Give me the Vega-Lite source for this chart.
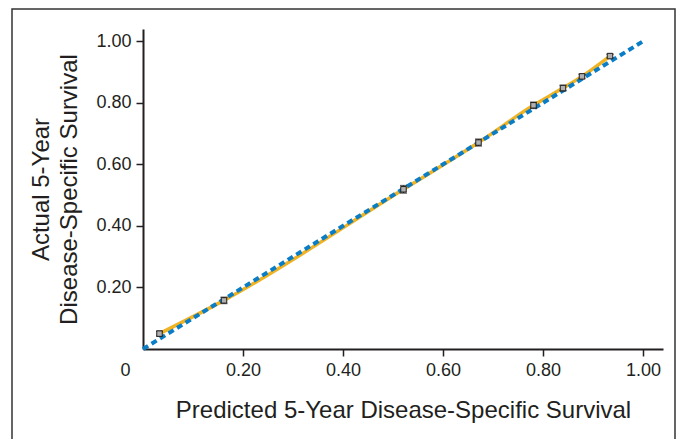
{
  "$schema": "https://vega.github.io/schema/vega-lite/v6.json",
  "autosize": "none",
  "width": 663,
  "height": 430,
  "padding": {"left": 12, "top": 9, "right": 5, "bottom": 0},
  "background": "white",
  "config": {
    "view": {"stroke": "#333333", "strokeWidth": 1.5, "strokeDash": [1093, 663, 430]},
    "font": "Liberation Sans",
    "axis": {
      "grid": false,
      "domainColor": "#231f20",
      "domainWidth": 2,
      "tickColor": "#231f20",
      "tickWidth": 1.5,
      "tickSize": 7,
      "labelFont": "Liberation Sans",
      "labelFontSize": 18,
      "labelColor": "#231f20",
      "titleFont": "Liberation Sans",
      "titleFontSize": 24,
      "titleFontWeight": "normal",
      "titleColor": "#231f20"
    }
  },
  "datasets": {
    "pts": [
      {"pred": 0.033, "actual": 0.050, "lo": 0.042, "hi": 0.058},
      {"pred": 0.162, "actual": 0.158, "lo": 0.148, "hi": 0.168},
      {"pred": 0.521, "actual": 0.519, "lo": 0.507, "hi": 0.531},
      {"pred": 0.671, "actual": 0.671, "lo": 0.660, "hi": 0.682},
      {"pred": 0.781, "actual": 0.792, "lo": 0.782, "hi": 0.802},
      {"pred": 0.840, "actual": 0.848, "lo": 0.839, "hi": 0.857},
      {"pred": 0.878, "actual": 0.886, "lo": 0.879, "hi": 0.893},
      {"pred": 0.934, "actual": 0.952, "lo": 0.946, "hi": 0.958}
    ],
    "diag": [
      {"pred": 0, "actual": 0},
      {"pred": 1, "actual": 1}
    ]
  },
  "encoding": {
    "x": {
      "field": "pred",
      "type": "quantitative",
      "scale": {"domain": [0, 1.04], "range": [131, 651], "nice": false, "zero": false},
      "axis": {
        "title": "Predicted 5-Year Disease-Specific Survival",
        "offset": -90,
        "values": [0, 0.2, 0.4, 0.6, 0.8, 1],
        "labelExpr": "datum.value == 0 ? '0' : format(datum.value, '.2f')",
        "labelOffset": {"condition": {"test": "datum.value == 0", "value": -18}, "value": 0},
        "tickOpacity": {"condition": {"test": "datum.value == 0", "value": 0}, "value": 1},
        "labelPadding": 5,
        "titlePadding": 19,
        "labelFlush": false,
        "labelOverlap": false
      }
    },
    "y": {
      "field": "actual",
      "type": "quantitative",
      "scale": {"domain": [0, 1.04], "range": [340, 20], "nice": false, "zero": false},
      "axis": {
        "title": ["Actual 5-Year", "Disease-Specific Survival"],
        "offset": -131,
        "values": [0.2, 0.4, 0.6, 0.8, 1],
        "format": ".2f",
        "labelPadding": 5,
        "titlePadding": 14,
        "titleLineHeight": 28,
        "labelOverlap": false
      }
    }
  },
  "layer": [
    {
      "data": {"name": "pts"},
      "mark": {"type": "line", "color": "#f0b323", "strokeWidth": 3.5, "interpolate": "monotone"}
    },
    {
      "data": {"name": "diag"},
      "mark": {"type": "line", "color": "#0a7dc6", "strokeWidth": 4, "strokeDash": [6, 4]}
    },
    {
      "data": {"name": "pts"},
      "mark": {"type": "errorbar", "color": "#231f20", "ticks": {"size": 7, "thickness": 1.5}, "rule": {"strokeWidth": 1.2}},
      "encoding": {
        "y": {
          "field": "lo",
          "type": "quantitative",
          "scale": {"domain": [0, 1.04], "range": [340, 20], "nice": false, "zero": false},
          "axis": {
            "title": ["Actual 5-Year", "Disease-Specific Survival"],
            "offset": -131,
            "values": [0.2, 0.4, 0.6, 0.8, 1],
            "format": ".2f",
            "labelPadding": 5,
            "titlePadding": 14,
            "titleLineHeight": 28,
            "labelOverlap": false
          }
        },
        "y2": {"field": "hi"}
      }
    },
    {
      "data": {"name": "pts"},
      "mark": {"type": "square", "size": 30, "fill": "#b0b0b0", "stroke": "#231f20", "strokeWidth": 1, "opacity": 1, "filled": true}
    }
  ]
}
